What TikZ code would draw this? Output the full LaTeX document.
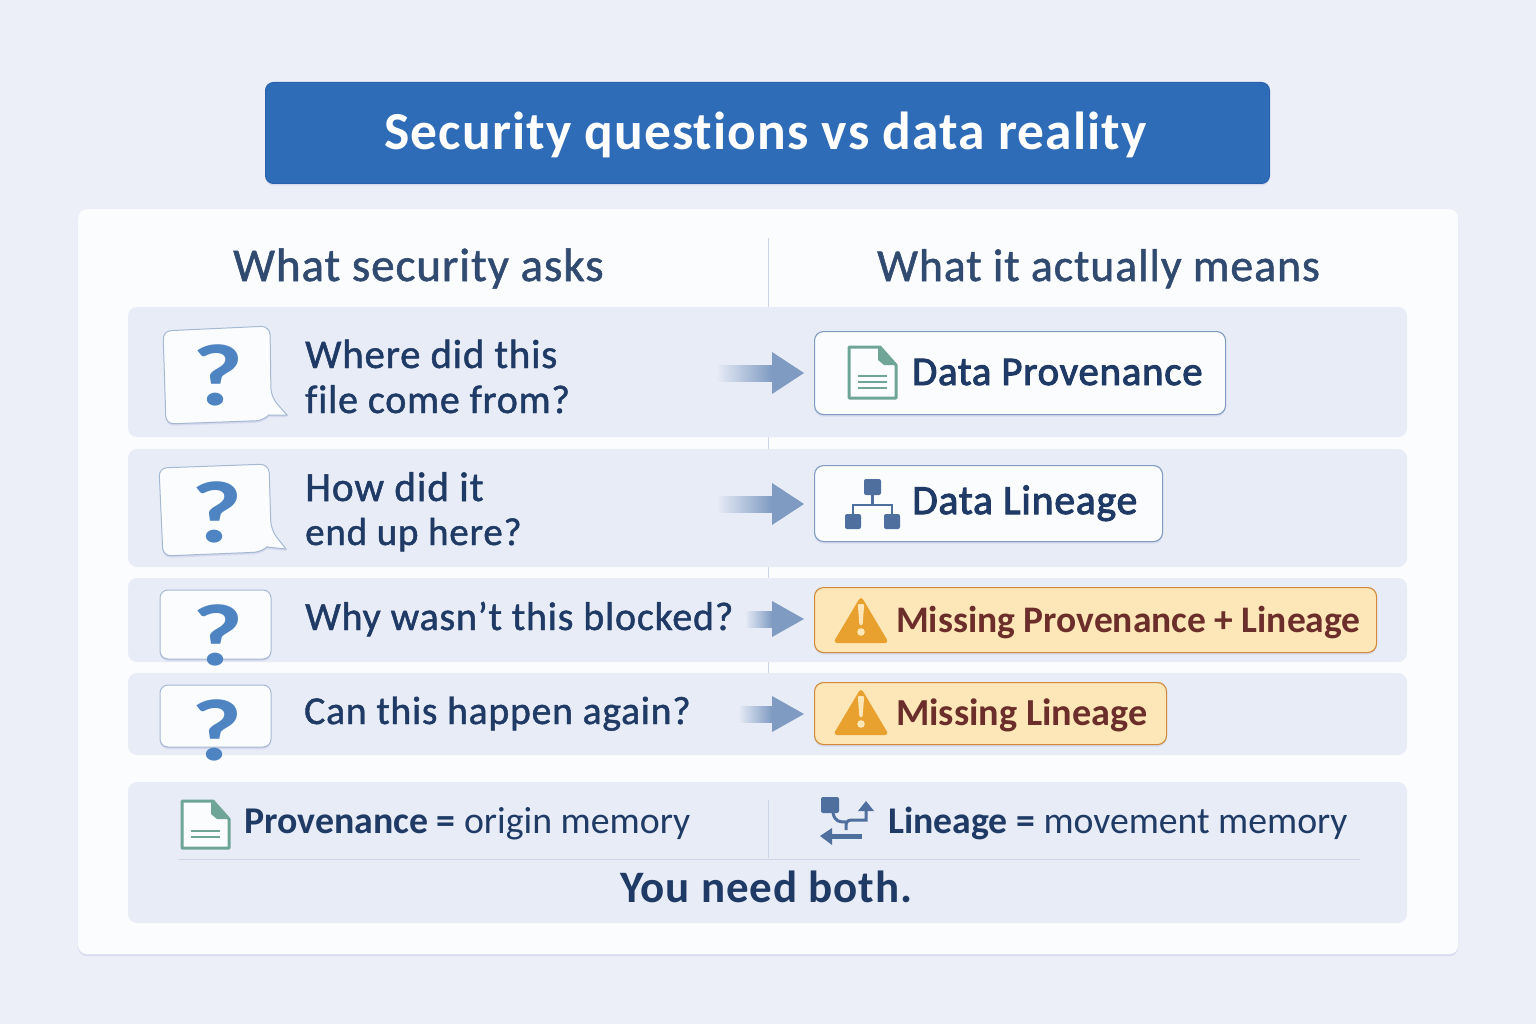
\documentclass[tikz,border=0pt]{standalone}
\usepackage{fontspec}
\usetikzlibrary{calc,shadows}
\setmainfont[Ligatures=NoCommon]{Carlito}
\newfontfamily\medf[Ligatures=NoCommon,FakeBold=1.2,LetterSpace=2]{Carlito}
\newfontfamily\boxf[Ligatures=NoCommon,FakeBold=2.4,LetterSpace=2]{Carlito}
\newfontfamily\spreadb[Ligatures=NoCommon,LetterSpace=2,BoldFont={Carlito Bold}]{Carlito Bold}
\definecolor{pagebg}{HTML}{ECEFF8}
\definecolor{panelc}{HTML}{FBFCFE}
\definecolor{rowc}{HTML}{E8ECF6}
\definecolor{headc}{HTML}{2F6CB8}
\definecolor{headl}{HTML}{2A62AC}
\definecolor{inkc}{HTML}{1F3A64}
\definecolor{subc}{HTML}{CDD6E6}
\definecolor{arrowc}{HTML}{7F9BC2}
\definecolor{edgec}{HTML}{7F9BC0}
\definecolor{bluec}{HTML}{4F84C2}
\definecolor{warnf}{HTML}{FDE7B8}
\definecolor{warne}{HTML}{D08A3A}
\definecolor{warni}{HTML}{E8A02E}
\definecolor{warnt}{HTML}{6B2E2A}
\definecolor{filec}{HTML}{6FA596}
\definecolor{treec}{HTML}{4F709F}
\tikzset{
  softshadow/.style={general shadow={shadow xshift=0pt,shadow yshift=-2pt,fill=black!45!blue!40,opacity=.22}},
  rowbox/.style={fill=rowc,rounded corners=9pt},
  cardbox/.style={draw=edgec,line width=1.1pt,fill=panelc,rounded corners=9pt,anchor=north west,inner sep=0pt,softshadow},
  warnbox/.style={draw=warne,line width=1.1pt,fill=warnf,rounded corners=9pt,anchor=north west,inner sep=0pt,softshadow},
  bubble/.style={draw=edgec!70,line width=1pt,fill=panelc,softshadow},
  txt/.style={anchor=base west,inner sep=0pt,text=inkc},
  qmark/.style={anchor=center,inner sep=0pt,text=bluec,font=\fontsize{88}{88}\selectfont\bfseries},
  divline/.style={draw=subc,line width=1pt}
}
\newcommand\qglyph{\scalebox{1.25}[1]{?}}
\newcommand\medsize[1]{\fontsize{#1}{#1}\selectfont\medf}
\newcommand\boxsize[1]{\fontsize{#1}{#1}\selectfont\boxf}
\newcommand\flowarrow[3]{% tail coordinate, box node, half head
  \shade[left color=rowc,right color=arrowc]
    ($(#1)+(0,-8)$) rectangle ($(#2.west |- #1)+(-42,8)$);
  \fill[arrowc] ($(#2.west |- #1)+(-42,-#3)$) -- ($(#2.west |- #1)+(-10,0)$)
    -- ($(#2.west |- #1)+(-42,#3)$) -- cycle;
}
\newcommand\fileicon[4]{% x y h lines
  \begin{scope}[shift={(#1,#2)}]
    \draw[filec,line width=3pt,fill=panelc,line join=round] (0,0) -- (31,0) -- (47,18) -- (47,#3) -- (0,#3) -- cycle;
    \fill[filec,line join=round] (29,0) -- (47,18) -- (35,18) -- (29,13) -- cycle;
    #4
  \end{scope}
}
\newcommand\warnicon[2]{%
  \begin{scope}[shift={(#1,#2)}]
    \fill[warni,rounded corners=4pt] (27,-2) -- (55,45) -- (-1,45) -- cycle;
    \fill[warnf,rounded corners=1pt] (23.8,6) -- (30.2,6) -- (28.6,27) -- (25.4,27) -- cycle;
    \fill[warnf] (27,34) circle (3.8);
  \end{scope}
}
\begin{document}
\begin{tikzpicture}[x=1pt,y=-1pt]
\useasboundingbox (0,0) rectangle (1536,1024);
\fill[pagebg] (0,0) rectangle (1536,1024);
% title
\node[anchor=north west,minimum width=1004pt,minimum height=101pt,inner sep=0pt,fill=headc,draw=headl,line width=1pt,rounded corners=8pt,softshadow] (title) at (265,82) {};
\node[inner sep=0pt,text=white,font=\fontsize{53.5}{54}\selectfont\spreadb] (titletext) at (765.5,135) {Security questions vs data reality};
% panel
\node[anchor=north west,minimum width=1380pt,minimum height=745pt,inner sep=0pt,fill=panelc,rounded corners=9pt,softshadow] (panel) at (78,209) {};
% divider
\draw[divline] (768,238) -- (768,580);
\draw[divline] (768,580) -- (768,675);
% rows
\fill[rowbox] (128,307) rectangle (1407,437);
\fill[rowbox] (128,449) rectangle (1407,567);
\fill[rowbox] (128,578) rectangle (1407,662);
\fill[rowbox] (128,673) rectangle (1407,755);
\fill[rowbox] (128,782) rectangle (1407,923);
% column headers
\node[txt,font=\medsize{47},text=inkc!92!white] (hleft) at (233,281) {What security asks};
\node[txt,font=\medsize{45.8},text=inkc!92!white] (hright) at (877,281) {What it actually means};
% bubbles
\draw[bubble] (190,329.7) [rounded corners=9pt] -- (270,326) -- (271,397) [sharp corners] -- (287,415) -- (269,415) [rounded corners=8pt] -- (264,420.5) -- (166,424) -- (163,331) -- cycle;
\node[qmark] (q1) at (218,375) {\qglyph};
\draw[bubble] (190,466.9) [rounded corners=9pt] -- (269,464) -- (271,530) [sharp corners] -- (286,549) -- (267,547) [rounded corners=8pt] -- (262,552) -- (163,556) -- (159,468) -- cycle;
\node[qmark] (q2) at (217,512) {\qglyph};
\draw[bubble,rounded corners=8pt] (160,590) rectangle (271,659);
\node[qmark] (q3) at (218,635) {\qglyph};
\draw[bubble,rounded corners=8pt] (160,685) rectangle (271,747);
\node[qmark] (q4) at (217,730) {\qglyph};
% question text
\node[txt,font=\medsize{40.8}] (t1a) at (305,368) {Where did this};
\node[txt,font=\medsize{40}] (t1b) at (305,413) {file come from?};
\node[txt,font=\medsize{41.5}] (t2a) at (305,501) {How did it};
\node[txt,font=\medsize{39}] (t2b) at (305,545) {end up here?};
\node[txt,font=\medsize{40}] (t3) at (305,630) {Why wasn’t this blocked?};
\node[txt,font=\medsize{39.6}] (t4) at (304,724) {Can this happen again?};
% answer boxes
\node[cardbox,minimum width=411pt,minimum height=83pt] (b1) at (814,331) {};
\node[cardbox,minimum width=348pt,minimum height=76pt] (b2) at (814,465) {};
\node[warnbox,minimum width=562pt,minimum height=65pt] (b3) at (814,587) {};
\node[warnbox,minimum width=352pt,minimum height=62pt] (b4) at (814,682) {};
% arrows
\coordinate (a1) at (716,373);
\coordinate (a2) at (716,504);
\coordinate (a3) at (745,619);
\coordinate (a4) at (738,714);
\flowarrow{a1}{b1}{21}
\flowarrow{a2}{b2}{21}
\flowarrow{a3}{b3}{18}
\flowarrow{a4}{b4}{18}
% box icons
\fileicon{849}{347}{51}{\draw[filec,line width=1.5pt] (9,29) -- (38,29) (9,35) -- (38,35) (9,41) -- (38,41);}
\begin{scope}
  \draw[treec,line width=2.4pt] (872.5,490) -- (872.5,505) (853,514) -- (853,505) -- (892,505) -- (892,514);
  \fill[treec,rounded corners=2pt] (864,479) rectangle (881,495);
  \fill[treec,rounded corners=2pt] (845,514) rectangle (861,529);
  \fill[treec,rounded corners=2pt] (884,514) rectangle (900,529);
\end{scope}
\warnicon{834}{598}
\warnicon{834}{690}
% box text
\node[txt,font=\boxsize{40.7},text=inkc] (l1) at (912,385) {Data Provenance};
\node[txt,font=\boxsize{41.5},text=inkc] (l2) at (912,514) {Data Lineage};
\node[txt,font=\fontsize{37.5}{38}\selectfont\bfseries,text=warnt] (l3) at (896,632) {Missing Provenance + Lineage};
\node[txt,font=\fontsize{38.2}{38}\selectfont\bfseries,text=warnt] (l4) at (896,725) {Missing Lineage};
% bottom
\draw[divline] (178,859) -- (1360,859);
\draw[divline] (768,800) -- (768,858);
\fileicon{182}{801}{47}{\draw[filec,line width=1.5pt] (9,30) -- (38,30) (9,36) -- (38,36);}
\node[txt,font=\fontsize{37.8}{38}\selectfont,text=inkc] (f1) at (244,833) {\textbf{Provenance =} origin memory};
\begin{scope}
  \fill[treec,rounded corners=2pt] (821,797) rectangle (839,813);
  \draw[treec,line width=3pt] (833,813) .. controls (835,822) and (840,822) .. (846,822) (846,830) -- (846,825) .. controls (846,820) and (850,820) .. (854,820) -- (866,820) -- (866,808);
  \fill[treec] (866,801) -- (874,811) -- (858,811) -- cycle;
  \draw[treec,line width=5pt] (862,836) -- (830,836);
  \fill[treec] (820,836) -- (832,828) -- (832,845) -- cycle;
\end{scope}
\node[txt,font=\fontsize{37.7}{38}\selectfont,text=inkc] (f2) at (888,833) {\textbf{Lineage =} movement memory};
\node[txt,font=\fontsize{45}{45}\selectfont\spreadb,text=inkc] (both) at (620,902) {You need both.};
\end{tikzpicture}
\end{document}
